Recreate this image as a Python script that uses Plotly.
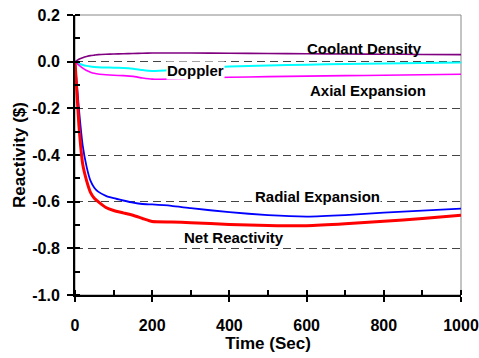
import plotly.graph_objects as go

# Time after transient initiation (s)
time_s = [0, 10, 20, 30, 40, 50, 60, 80, 100, 125, 150, 175, 200,
          250, 300, 400, 500, 600, 700, 800, 900, 1000]

# Reactivity feedback components ($)
coolant_density = [0.0, 0.010, 0.017, 0.022, 0.026, 0.028, 0.030, 0.032, 0.033, 0.034,
                   0.035, 0.036, 0.037, 0.037, 0.037, 0.036, 0.035, 0.034, 0.033, 0.032,
                   0.031, 0.030]
doppler = [0.0, -0.008, -0.014, -0.018, -0.021, -0.023, -0.024, -0.025, -0.026, -0.027,
           -0.030, -0.036, -0.040, -0.036, -0.030, -0.021, -0.016, -0.013, -0.010, -0.008,
           -0.006, -0.004]
axial_expansion = [0.0, -0.015, -0.028, -0.038, -0.045, -0.050, -0.053, -0.056, -0.058,
                   -0.060, -0.063, -0.070, -0.075, -0.074, -0.071, -0.067, -0.064, -0.062,
                   -0.060, -0.058, -0.056, -0.054]
radial_expansion = [0.0, -0.20, -0.36, -0.45, -0.51, -0.54, -0.557, -0.575, -0.585, -0.595,
                    -0.604, -0.610, -0.612, -0.618, -0.628, -0.645, -0.658, -0.664, -0.658,
                    -0.647, -0.638, -0.630]
net_reactivity = [0.0, -0.27, -0.44, -0.51, -0.56, -0.585, -0.600, -0.625, -0.638, -0.648,
                  -0.658, -0.672, -0.685, -0.687, -0.690, -0.698, -0.702, -0.703, -0.695,
                  -0.684, -0.672, -0.658]

# Axis ticks
x_ticks = [0, 200, 400, 600, 800, 1000]
y_ticks = [0.2, 0.0, -0.2, -0.4, -0.6, -0.8, -1.0]
y_tick_text = ["0.2", "0.0", "-0.2", "-0.4", "-0.6", "-0.8", "-1.0"]

# Curve labels: (text, time, reactivity, white box)
labels = [
    ("Coolant Density", 751, 0.056, False),
    ("Doppler", 313, -0.039, True),
    ("Axial Expansion", 758, -0.124, False),
    ("Radial Expansion", 627, -0.578, True),
    ("Net Reactivity", 412, -0.754, False),
]

FONT = "Liberation Sans, Arial, Helvetica, sans-serif"
TICKFONT = dict(family=FONT, size=16, weight="bold", color="black")

fig = go.Figure()
series = [
    (coolant_density, "#800080", 1.6),
    (doppler, "#00FFFF", 2.0),
    (axial_expansion, "#FF00FF", 1.6),
    (radial_expansion, "#0000FF", 1.8),
    (net_reactivity, "#FF0000", 3.0),
]
for vals, color, width in series:
    fig.add_trace(go.Scatter(x=time_s, y=vals, mode="lines",
                             line=dict(color=color, width=width, shape="spline", smoothing=0.4),
                             showlegend=False, hoverinfo="skip"))

for text, t, r, boxed in labels:
    fig.add_annotation(x=t, y=r, text=f"<b>{text}</b>", showarrow=False,
                       font=dict(family=FONT, size=15, color="black"),
                       bgcolor="white" if boxed else "rgba(0,0,0,0)", borderpad=0)

fig.update_layout(
    width=479, height=358,
    margin=dict(l=75, r=18, t=15, b=63),
    paper_bgcolor="white", plot_bgcolor="white",
    font=dict(family=FONT, color="black"),
    xaxis=dict(range=[0, 1000], tickvals=x_ticks, ticks="outside", ticklen=5, tickwidth=2,
               tickcolor="black", showline=True, linecolor="black", linewidth=2,
               showgrid=False, zeroline=False, ticklabelstandoff=10, automargin=False,
               minor=dict(dtick=100, tick0=0, ticks="inside", ticklen=5, tickwidth=2,
                          tickcolor="black", showgrid=False),
               tickfont=TICKFONT,
               title=dict(text="<b>Time (Sec)</b>", font=dict(family=FONT, size=17), standoff=4)),
    yaxis=dict(range=[-1.0, 0.2], tickvals=y_ticks, ticktext=y_tick_text, ticks="outside",
               ticklen=6, tickwidth=2, tickcolor="black", showline=True, linecolor="black",
               linewidth=2, showgrid=True, gridcolor="#444", griddash="8px,5px", gridwidth=1,
               zeroline=False, ticklabelstandoff=4, automargin=False,
               minor=dict(dtick=0.1, tick0=0, ticks="inside", ticklen=5, tickwidth=2,
                          tickcolor="black", showgrid=False),
               tickfont=TICKFONT,
               title=dict(text="<b>Reactivity ($)</b>", font=dict(family=FONT, size=17), standoff=2)),
    shapes=[dict(type="rect", xref="paper", yref="paper", x0=0, y0=0, x1=1, y1=1,
                 line=dict(color="#888", width=1), layer="below")],
)

fig.write_html("out.html")
